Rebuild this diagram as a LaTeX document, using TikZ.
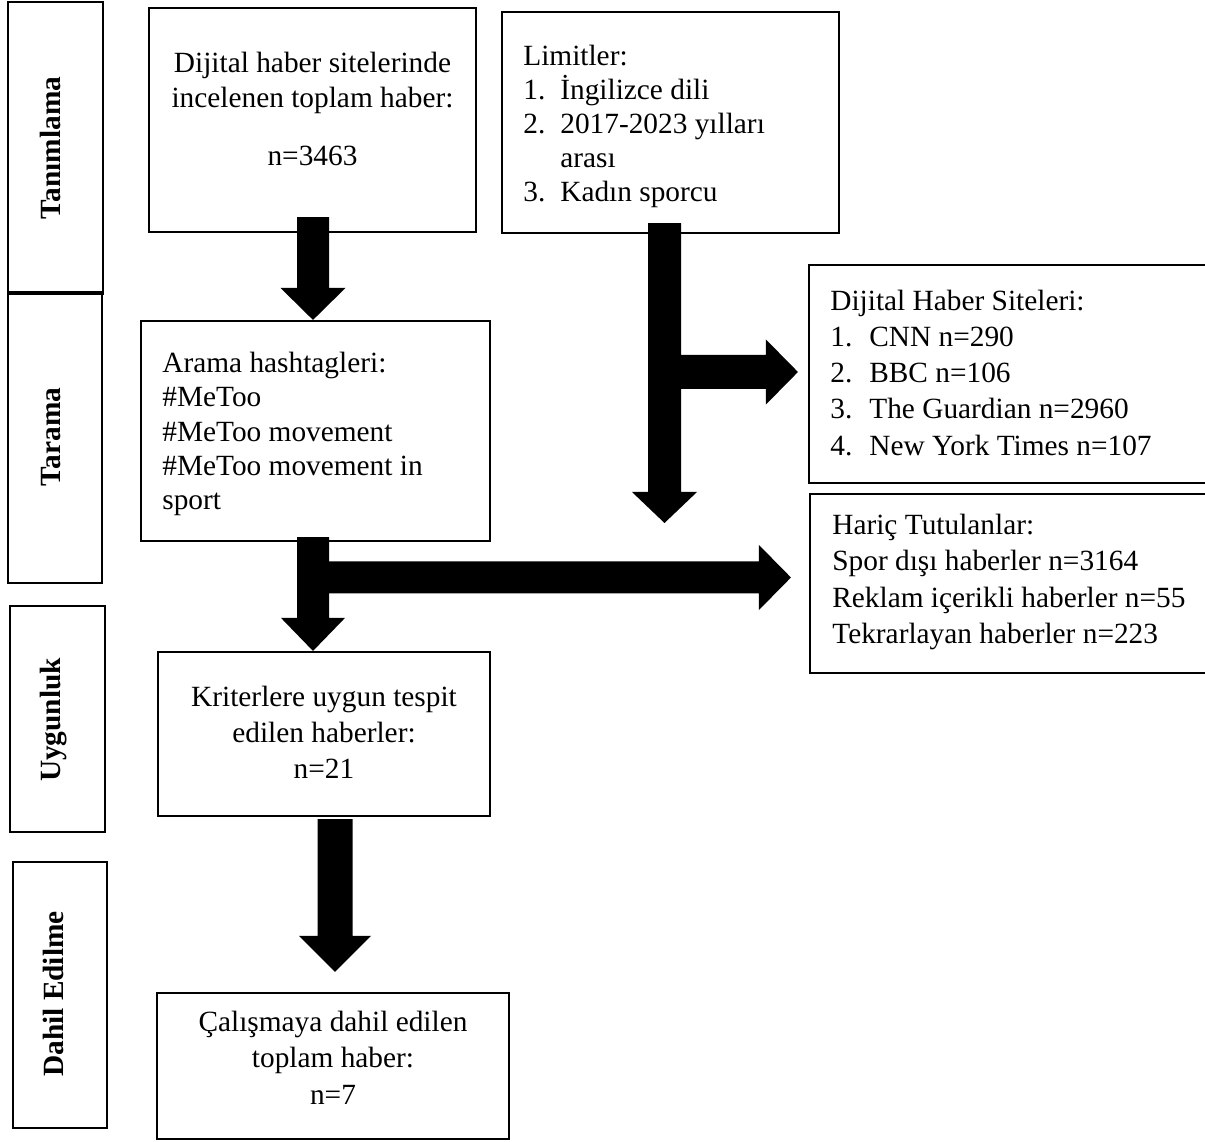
\documentclass[tikz,border=0pt]{standalone}
\usepackage{fontspec}
\setmainfont{Liberation Serif}
\usetikzlibrary{calc,fit}
\tikzset{
  box/.style={draw=black, line width=1.2pt, inner sep=0pt, rectangle},
  txtc/.style={inner sep=0pt, anchor=base, font={\fontsize{16.7pt}{20pt}\selectfont}},
  txtl/.style={inner sep=0pt, anchor=base west, font={\fontsize{16.7pt}{20pt}\selectfont}},
  phase/.style={inner sep=0pt, anchor=base, rotate=90, font={\fontsize{16.7pt}{20pt}\selectfont\bfseries}},
}
% block arrow pointing down: #1 top, #2 tip, #3 shaft half width, #4 head half width, #5 head length
\newcommand{\blockdown}[5]{\fill[black] ($(#1)+(-#3,0)$) -- ($(#2)+(-#3,-#5)$) -- ($(#2)+(-#4,-#5)$) -- (#2) -- ($(#2)+(#4,-#5)$) -- ($(#2)+(#3,-#5)$) -- ($(#1)+(#3,0)$) -- cycle;}
% block arrow pointing right: #1 start, #2 tip, #3 shaft half width, #4 head half width, #5 head length
\newcommand{\blockright}[5]{\fill[black] ($(#1)+(0,-#3)$) -- ($(#2)+(-#5,-#3)$) -- ($(#2)+(-#5,-#4)$) -- (#2) -- ($(#2)+(-#5,#4)$) -- ($(#2)+(-#5,#3)$) -- ($(#1)+(0,#3)$) -- cycle;}
\begin{document}
\begin{tikzpicture}[x=0.02cm, y=-0.02cm]
\path[use as bounding box, fill=white] (0,0) rectangle (1205,1142);

% phase boxes
\node[box, fit={(8,2) (103,294)}] (tan) {};
\node[box, fit={(8,292) (102,583)}] (tar) {};
\node[box, fit={(10,606) (105,832)}] (uyg) {};
\node[box, fit={(13,862) (107,1128)}] (dah) {};
\node[phase] (tanl) at (60,148) {Tanımlama};
\node[phase] (tarl) at (60,437) {Tarama};
\node[phase] (uygl) at (60,720) {Uygunluk};
\node[phase] (dahl) at (63,994) {Dahil Edilme};

% main boxes
\node[box, fit={(149,8) (476,232)}] (dij) {};
\node[box, fit={(502,12) (839,233)}] (lim) {};
\node[box, fit={(141,321) (490,541)}] (ara) {};
\node[box, fit={(809,265) (1240,483)}] (dhs) {};
\node[box, fit={(810,494) (1240,673)}] (har) {};
\node[box, fit={(158,652) (490,816)}] (kri) {};
\node[box, fit={(157,993) (509,1139)}] (cal) {};

% texts
\node[txtc] (dij1) at (312.5,73) {Dijital haber sitelerinde};
\node[txtc] (dij2) at (312.5,108) {incelenen toplam haber:};
\node[txtc] (dij3) at (312.5,166) {n=3463};

\node[txtl] (lim0) at (523,66) {Limitler:};
\node[txtl] (lim1n) at (523,100) {1.};
\node[txtl] (lim1) at (560,100) {İngilizce dili};
\node[txtl] (lim2n) at (523,134) {2.};
\node[txtl] (lim2) at (560,134) {2017-2023 yılları};
\node[txtl] (lim2b) at (560,168) {arası};
\node[txtl] (lim3n) at (523,202) {3.};
\node[txtl] (lim3) at (560,202) {Kadın sporcu};

\node[txtl] (ara0) at (162,373) {Arama hashtagleri:};
\node[txtl] (ara1) at (162,407) {\#MeToo};
\node[txtl] (ara2) at (162,442) {\#MeToo movement};
\node[txtl] (ara3) at (162,476) {\#MeToo movement in};
\node[txtl] (ara4) at (162,510) {sport};

\node[txtl] (dhs0) at (830,311) {Dijital Haber Siteleri:};
\node[txtl] (dhs1n) at (830,347) {1.};
\node[txtl] (dhs1) at (869,347) {CNN n=290};
\node[txtl] (dhs2n) at (830,383) {2.};
\node[txtl] (dhs2) at (869,383) {BBC n=106};
\node[txtl] (dhs3n) at (830,419) {3.};
\node[txtl] (dhs3) at (869,419) {The Guardian n=2960};
\node[txtl] (dhs4n) at (830,456) {4.};
\node[txtl] (dhs4) at (869,456) {New York Times n=107};

\node[txtl] (har0) at (832,535) {Hariç Tutulanlar:};
\node[txtl] (har1) at (832,571) {Spor dışı haberler n=3164};
\node[txtl] (har2) at (832,607) {Reklam içerikli haberler n=55};
\node[txtl] (har3) at (832,643) {Tekrarlayan haberler n=223};

\node[txtc] (kri1) at (324,706) {Kriterlere uygun tespit};
\node[txtc] (kri2) at (324,742) {edilen haberler:};
\node[txtc] (kri3) at (324,778) {n=21};

\node[txtc] (cal1) at (333,1031) {Çalışmaya dahil edilen};
\node[txtc] (cal2) at (333,1067) {toplam haber:};
\node[txtc] (cal3) at (333,1104) {n=7};

% connectors
\coordinate (a1top) at ($(dij.south)+(0.5,-16)$);
\coordinate (a1tip) at (a1top |- ara.north);
\blockdown{a1top}{a1tip}{16}{32.5}{32}

\coordinate (a2top) at ($(lim.south)+(-6,-11)$);
\coordinate (a2tip) at (664.5,523);
\blockdown{a2top}{a2tip}{16.5}{32.5}{31}
\coordinate (a2mid) at (664.5,372);
\coordinate (a2rtip) at ($(dhs.west)+(-10,-2)$);
\blockright{a2mid}{a2rtip}{17}{32.5}{32}

\coordinate (a3top) at ($(ara.south)+(-2.5,-5)$);
\coordinate (a3tip) at (a3top |- kri.north);
\blockdown{a3top}{a3tip}{16}{32}{33}
\coordinate (a3mid) at (313,577.5);
\coordinate (a3rtip) at ($(har.west)+(-18,-6)$);
\blockright{a3mid}{a3rtip}{16}{32.5}{32}

\coordinate (a4top) at ($(kri.south)+(11,2)$);
\coordinate (a4tip) at ($(cal.north)+(2,-20)$);
\blockdown{a4top}{a4tip}{17.5}{36}{36}
\end{tikzpicture}
\end{document}
